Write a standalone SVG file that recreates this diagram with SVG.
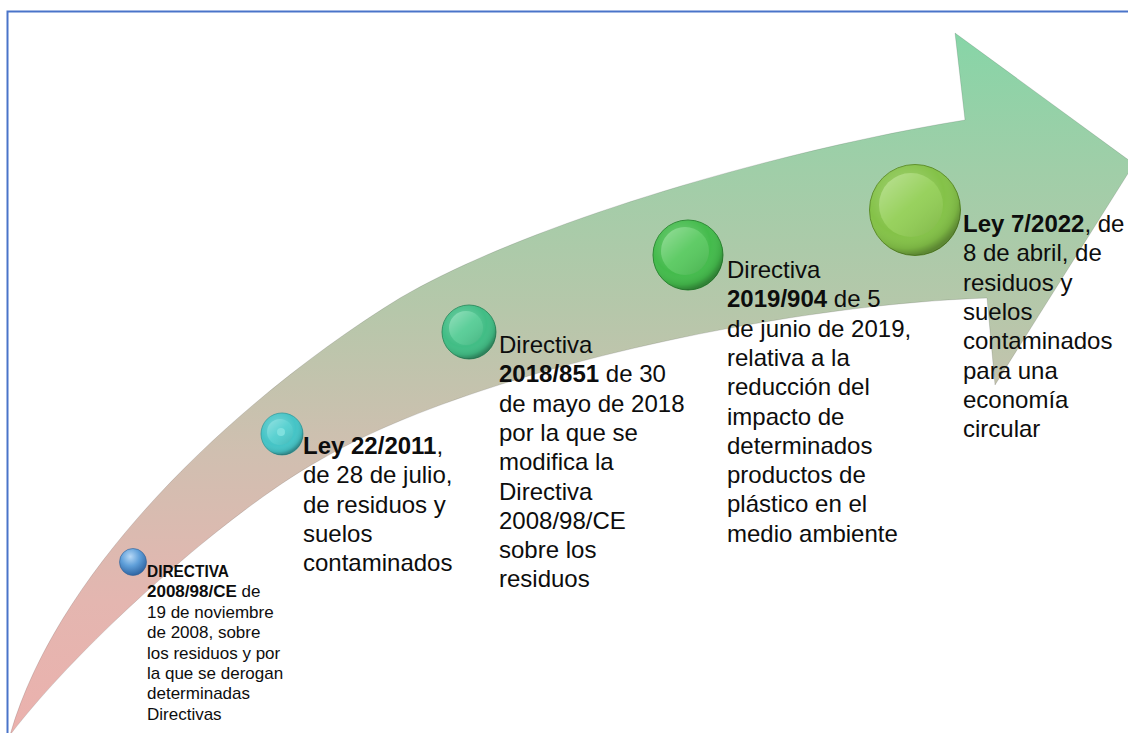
<svg xmlns="http://www.w3.org/2000/svg" width="1128" height="733" viewBox="0 0 1128 733">
<style>
  .t { font-family: "Liberation Sans", Arial, sans-serif; fill: #0d0d0d; }
  .big { font-size: 24px; }
  .small { font-size: 17px; }
  .b { font-weight: bold; }
  .shade { fill: url(#shade); }
  .inner { fill: url(#innerShade); }
</style>
<defs>
  <linearGradient id="arrowFill" gradientUnits="userSpaceOnUse" x1="0" y1="735" x2="0" y2="30">
    <stop offset="0" stop-color="#ebb1ad"/>
    <stop offset="0.19" stop-color="#e4b6b0"/>
    <stop offset="0.4" stop-color="#d0bfb0"/>
    <stop offset="0.6" stop-color="#b6c7aa"/>
    <stop offset="0.8" stop-color="#a0cea8"/>
    <stop offset="1" stop-color="#86d5a7"/>
  </linearGradient>
  <radialGradient id="shade" cx="0.4" cy="0.35" r="0.65">
    <stop offset="0" stop-color="#ffffff" stop-opacity="0.3"/>
    <stop offset="0.65" stop-color="#ffffff" stop-opacity="0"/>
    <stop offset="0.88" stop-color="#000000" stop-opacity="0.08"/>
    <stop offset="1" stop-color="#000000" stop-opacity="0.3"/>
  </radialGradient>
  <linearGradient id="innerShade" x1="0.15" y1="0.1" x2="0.85" y2="0.9">
    <stop offset="0" stop-color="#ffffff" stop-opacity="0.3"/>
    <stop offset="0.5" stop-color="#ffffff" stop-opacity="0.05"/>
    <stop offset="1" stop-color="#000000" stop-opacity="0.08"/>
  </linearGradient>
  <radialGradient id="sphere" cx="0.4" cy="0.3" r="0.7">
    <stop offset="0" stop-color="#b6d8f6"/>
    <stop offset="0.5" stop-color="#5f9fd9"/>
    <stop offset="1" stop-color="#2f65a3"/>
  </radialGradient>
</defs>

<rect x="7.5" y="11.5" width="1200" height="800" fill="none" stroke="#4a74c9" stroke-width="2"/>

<g id="arrow">
  <path d="M10,735 C82,641 230,510 320,460 C470,372 780,305 987,298 L995,385 L1134,164 L955,33 L965,120 C780,150 530,222 400,298 C250,390 60,560 10,735 Z" fill="url(#arrowFill)" stroke="#000" stroke-opacity="0.12" stroke-width="1"/>
</g>

<g id="node1">
  <circle cx="133" cy="562" r="13.5" fill="url(#sphere)" stroke="#2f5f96" stroke-width="0.6"/>
  <text class="t small" x="147" y="577">
    <tspan class="b" x="147" textLength="82" lengthAdjust="spacingAndGlyphs">DIRECTIVA</tspan>
    <tspan x="147" dy="20.4"><tspan class="b">2008/98/CE</tspan> de</tspan>
    <tspan x="147" dy="20.4">19 de noviembre</tspan>
    <tspan x="147" dy="20.4">de 2008, sobre</tspan>
    <tspan x="147" dy="20.4">los residuos y por</tspan>
    <tspan x="147" dy="20.4">la que se derogan</tspan>
    <tspan x="147" dy="20.4">determinadas</tspan>
    <tspan x="147" dy="20.4">Directivas</tspan>
  </text>
</g>

<g id="node2">
  <circle cx="282" cy="434" r="21" fill="#45c4c6" stroke="#2e9a9c" stroke-width="0.8"/>
  <circle cx="282" cy="434" r="21" class="shade"/>
  <circle cx="280" cy="432" r="13" fill="#52cfcf"/>
  <circle cx="280" cy="432" r="13" class="inner"/>
  <circle cx="281" cy="432" r="4" fill="#7fe0de"/>
  <text class="t big" x="303" y="454">
    <tspan x="303"><tspan class="b">Ley 22/2011</tspan>,</tspan>
    <tspan x="303" dy="29.3">de 28 de julio,</tspan>
    <tspan x="303" dy="29.3">de residuos y</tspan>
    <tspan x="303" dy="29.3">suelos</tspan>
    <tspan x="303" dy="29.3">contaminados</tspan>
  </text>
</g>

<g id="node3">
  <circle cx="469" cy="332" r="27" fill="#41bd85" stroke="#2a8a5c" stroke-width="0.9"/>
  <circle cx="469" cy="332" r="27" class="shade"/>
  <circle cx="466" cy="328" r="17" fill="#55cc95"/>
  <circle cx="466" cy="328" r="17" class="inner"/>
  <text class="t big" x="499" y="353">
    <tspan x="499">Directiva</tspan>
    <tspan x="499" dy="29.3"><tspan class="b">2018/851</tspan> de 30</tspan>
    <tspan x="499" dy="29.3">de mayo de 2018</tspan>
    <tspan x="499" dy="29.3">por la que se</tspan>
    <tspan x="499" dy="29.3">modifica la</tspan>
    <tspan x="499" dy="29.3">Directiva</tspan>
    <tspan x="499" dy="29.3">2008/98/CE</tspan>
    <tspan x="499" dy="29.3">sobre los</tspan>
    <tspan x="499" dy="29.3">residuos</tspan>
  </text>
</g>

<g id="node4">
  <circle cx="688" cy="255" r="35" fill="#44bb4c" stroke="#2c8a33" stroke-width="1"/>
  <circle cx="688" cy="255" r="35" class="shade"/>
  <circle cx="685" cy="251" r="24" fill="#58c95f"/>
  <circle cx="685" cy="251" r="24" class="inner"/>
  <text class="t big" x="727" y="278">
    <tspan x="727">Directiva</tspan>
    <tspan x="727" dy="29.3"><tspan class="b">2019/904</tspan> de 5</tspan>
    <tspan x="727" dy="29.3">de junio de 2019,</tspan>
    <tspan x="727" dy="29.3">relativa a la</tspan>
    <tspan x="727" dy="29.3">reducción del</tspan>
    <tspan x="727" dy="29.3">impacto de</tspan>
    <tspan x="727" dy="29.3">determinados</tspan>
    <tspan x="727" dy="29.3">productos de</tspan>
    <tspan x="727" dy="29.3">plástico en el</tspan>
    <tspan x="727" dy="29.3">medio ambiente</tspan>
  </text>
</g>

<g id="node5">
  <circle cx="915" cy="210" r="45.5" fill="#84c248" stroke="#5e8f2c" stroke-width="1"/>
  <circle cx="915" cy="210" r="45.5" class="shade"/>
  <circle cx="911" cy="205" r="32" fill="#93cf56"/>
  <circle cx="911" cy="205" r="32" class="inner"/>
  <text class="t big" x="963" y="232">
    <tspan x="963"><tspan class="b">Ley 7/2022</tspan>, de</tspan>
    <tspan x="963" dy="29.3">8 de abril, de</tspan>
    <tspan x="963" dy="29.3">residuos y</tspan>
    <tspan x="963" dy="29.3">suelos</tspan>
    <tspan x="963" dy="29.3">contaminados</tspan>
    <tspan x="963" dy="29.3">para una</tspan>
    <tspan x="963" dy="29.3">economía</tspan>
    <tspan x="963" dy="29.3">circular</tspan>
  </text>
</g>
</svg>
